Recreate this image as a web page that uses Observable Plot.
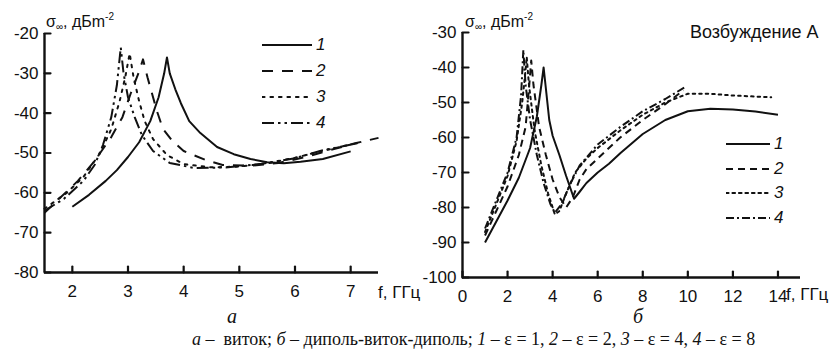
<!DOCTYPE html>
<html>
<head>
<meta charset="utf-8">
<script src="https://cdn.jsdelivr.net/npm/d3@7"></script>
<script src="https://cdn.jsdelivr.net/npm/@observablehq/plot@0.6"></script>
<style>
  html, body { margin: 0; padding: 0; background: #fff; }
  #wrap { position: relative; width: 840px; height: 355px; background: #fff; overflow: hidden;
          font-family: "Liberation Sans", Arial, sans-serif; color: #111; }
  .abs { position: absolute; white-space: nowrap; }
  .ylab { font-size: 16px; }
  .ylab sub { font-size: 10px; vertical-align: -3px; }
  .ylab sup { font-size: 10px; vertical-align: 7px; }
  .leg { position: absolute; font-size: 17px; font-style: italic; }
  .leg div { height: 26px; display: flex; align-items: center; }
  .caption { font-family: "Liberation Serif", "Times New Roman", serif; font-size: 18px; }
  .panel { font-family: "Liberation Serif", serif; font-style: italic; font-size: 20px; }
</style>
</head>
<body>
<div id="wrap">
  <div id="pa" class="abs" style="left:0;top:0"></div>
  <div id="pb" class="abs" style="left:420px;top:0"></div>
  <div class="abs ylab" style="left:46px;top:11px">σ<sub>∞</sub>, дБm<sup>-2</sup></div>
  <div class="abs ylab" style="left:465px;top:11px">σ<sub>∞</sub>, дБm<sup>-2</sup></div>
  <div class="abs" style="left:690px;top:22px;font-size:18px">Возбуждение А</div>
  <div class="abs" style="left:378px;top:283px;font-size:17px">f, ГГц</div>
  <div class="abs" style="left:786px;top:285px;font-size:17px">f, ГГц</div>
  <div class="abs panel" style="left:227px;top:305px">а</div>
  <div class="abs panel" style="left:633px;top:305px">б</div>
  <div id="legA" class="leg" style="left:262px;top:32px"></div>
  <div id="legB" class="leg" style="left:726px;top:132px"></div>
  <div class="abs caption" style="left:192px;top:329px"><i>а</i> –&nbsp; виток; <i>б</i> – диполь-виток-диполь; <i>1</i> – ε = 1, <i>2</i> – ε = 2, <i>3</i> – ε = 4, <i>4</i> – ε = 8</div>
</div>
<script>
// ---------- Panel а (виток) ----------
const aF1 = [2, 2.3, 2.6, 2.8, 3.0, 3.2, 3.4, 3.55, 3.65, 3.7, 3.75, 3.85, 3.95, 4.1, 4.3, 4.6, 4.9, 5.2, 5.5, 5.8, 6.1, 6.5, 7.0];
const aS1 = [-63.5, -60.5, -57, -54.3, -51, -47.3, -42, -36, -30, -26, -30, -34, -37.5, -42, -45, -48.5, -50.3, -51.5, -52.3, -52.6, -52.2, -51.5, -49.6];
const aF2 = [1.5, 1.8, 2.1, 2.4, 2.7, 2.9, 3.05, 3.2, 3.27, 3.35, 3.45, 3.52, 3.63, 3.8, 4.0, 4.4, 4.7, 5.2, 5.7, 6.2, 6.7, 7.1, 7.5];
const aS2 = [-65, -61, -57, -52, -46, -41, -35, -29.5, -26.5, -31, -36, -39.5, -44, -47, -49.5, -51.8, -53, -53.2, -52.5, -51, -49, -47.5, -46.2];
const aF3 = [1.5, 1.9, 2.2, 2.5, 2.7, 2.85, 2.95, 3.03, 3.1, 3.2, 3.3, 3.45, 3.7, 4.0, 4.5, 5.0, 5.5, 6.0, 6.4, 6.8, 7.1];
const aS3 = [-64, -60, -56, -50, -44, -37, -31, -25, -31, -37, -42, -46.5, -50.5, -52.8, -53.6, -53.4, -52.6, -51.2, -49.8, -48.5, -47.6];
const aF4 = [1.5, 1.85, 2.2, 2.4, 2.55, 2.7, 2.8, 2.87, 2.92, 3.0, 3.12, 3.25, 3.45, 3.75, 4.2, 4.8, 5.4, 6.0, 6.5, 6.9, 7.2];
const aS4 = [-64.5, -61.5, -57, -53, -48, -41, -33, -23.5, -30, -36, -41, -45.5, -49.5, -52.5, -53.8, -53.6, -52.7, -51.3, -49.3, -48.2, -47.3];
const aXTicks = [2, 3, 4, 5, 6, 7];
const aYTicks = [-20, -30, -40, -50, -60, -70, -80];

// ---------- Panel б (диполь-виток-диполь) ----------
const bF1 = [1, 1.5, 2, 2.5, 3, 3.3, 3.5, 3.6, 3.7, 3.85, 4.0, 4.3, 4.6, 4.95, 5.2, 5.5, 6, 6.5, 7, 8, 9, 10, 11, 12, 13, 14];
const bS1 = [-90, -84, -78, -71.5, -63, -54, -45, -40, -46, -55, -59.5, -65, -71, -77.5, -75.5, -73, -70, -67.5, -64.5, -59, -55, -52.5, -51.8, -52, -52.6, -53.5];
const bF2 = [1, 1.5, 2, 2.5, 2.8, 2.95, 3.05, 3.15, 3.4, 3.7, 4.0, 4.3, 4.6, 4.9, 5.2, 5.5, 6, 7, 8, 9, 9.8];
const bS2 = [-88, -81, -74, -65, -57, -46, -38, -45, -57, -65, -72, -77, -80, -77, -72, -69, -66, -60, -55, -50.5, -46.5];
const bF3 = [1, 1.5, 2, 2.4, 2.65, 2.78, 2.85, 2.95, 3.2, 3.5, 3.8, 4.1, 4.3, 4.6, 5, 5.5, 6, 7, 8, 9, 10, 11, 12, 13, 13.7];
const bS3 = [-87, -79, -71, -61, -50, -42, -37, -45, -58, -68, -76, -82, -81, -76, -70, -66, -63, -58, -53.5, -50, -47.5, -47.5, -48, -48.3, -48.5];
const bF4 = [1, 1.5, 2, 2.4, 2.6, 2.7, 2.8, 3.0, 3.3, 3.6, 3.9, 4.1, 4.4, 4.8, 5.2, 6, 7, 8, 9, 9.9];
const bS4 = [-86, -78, -70, -60, -48, -35, -45, -55, -65, -73, -79, -81.5, -79, -73, -68, -62, -57, -52.5, -49, -45.5];
const bXTicks = [0, 2, 4, 6, 8, 10, 12, 14];
const bYTicks = [-30, -40, -50, -60, -70, -80, -90, -100];

const seriesNames = ["1", "2", "3", "4"];
const dashA = {"1": null, "2": "11,9", "3": "2.5,6", "4": "12,4,2.5,4,2.5,4"};
const dashB = {"1": null, "2": "7,5", "3": "2.5,4", "4": "8,3,2,3"};

function rows(fs, ss) {
  const out = [];
  fs.forEach((F, k) => F.forEach((f, i) => out.push({s: seriesNames[k], f, v: ss[k][i]})));
  return out;
}
const rowsA = rows([aF1, aF2, aF3, aF4], [aS1, aS2, aS3, aS4]);
const rowsB = rows([bF1, bF2, bF3, bF4], [bS1, bS2, bS3, bS4]);

// a straight tick shape for Plot.vector (from the anchor point, length l, direction by rotate)
const tickShape = {draw(context, l) { context.moveTo(0, 0); context.lineTo(0, -l); }};

function panel({data, xDomain, yDomain, xTicks, yTicks, width, height, mL, mR, mT, mB, dash}) {
  const tl = 6;
  return Plot.plot({
    width, height, marginLeft: mL, marginRight: mR, marginTop: mT, marginBottom: mB,
    x: {domain: xDomain, label: null}, y: {domain: yDomain, label: null},
    style: {fontFamily: "Liberation Sans, Arial, sans-serif", fontSize: "17px", color: "#111", background: "transparent", overflow: "visible"},
    marks: [
      Plot.axisX(xTicks, {label: null, tickSize: 0, tickPadding: 12, tickFormat: d => String(d), fontSize: 17}),
      Plot.axisY(yTicks, {label: null, tickSize: 0, tickPadding: 6, tickFormat: d => String(d), fontSize: 17}),
      // inward tick marks
      Plot.vector(xTicks, {x: d => d, y: () => yDomain[0], length: tl, rotate: 0, anchor: "start",
        shape: tickShape, stroke: "#111", strokeWidth: 2.2}),
      Plot.vector(yTicks, {x: () => xDomain[0], y: d => d, length: tl, rotate: 90, anchor: "start",
        shape: tickShape, stroke: "#111", strokeWidth: 2.2}),
      Plot.ruleX([xDomain[0]], {stroke: "#111", strokeWidth: 2.4}),
      Plot.ruleY([yDomain[0]], {stroke: "#111", strokeWidth: 2.4}),
      ...seriesNames.map(s => Plot.line(data.filter(r => r.s === s), {
        x: "f", y: "v", stroke: "#111", strokeWidth: 2,
        strokeDasharray: dash[s], strokeLinecap: s === "3" ? "round" : "butt"
      }))
    ]
  });
}

document.getElementById("pa").appendChild(panel({
  data: rowsA, xDomain: [1.5, 7.5], yDomain: [-80, -20], xTicks: aXTicks, yTicks: aYTicks,
  width: 420, height: 310, mL: 44, mR: 42, mT: 33, mB: 38, dash: dashA
}));
document.getElementById("pb").appendChild(panel({
  data: rowsB, xDomain: [0, 15], yDomain: [-100, -30], xTicks: bXTicks, yTicks: bYTicks,
  width: 420, height: 310, mL: 42, mR: 40, mT: 32, mB: 33, dash: dashB
}));

function legend(el, dash, lineW, rowH) {
  seriesNames.forEach(s => {
    const row = document.createElement("div");
    row.style.height = rowH + "px";
    const svg = d3.create("svg").attr("width", lineW + 2).attr("height", 10);
    svg.append("line").attr("x1", 0).attr("x2", lineW).attr("y1", 5).attr("y2", 5)
      .attr("stroke", "#111").attr("stroke-width", 2.2)
      .attr("stroke-dasharray", dash[s]).attr("stroke-linecap", s === "3" ? "round" : "butt");
    row.appendChild(svg.node());
    const t = document.createElement("span");
    t.textContent = s;
    t.style.marginLeft = "2px";
    row.appendChild(t);
    el.appendChild(row);
  });
}
legend(document.getElementById("legA"), dashA, 50, 26);
legend(document.getElementById("legB"), dashB, 44, 24.5);
</script>
</body>
</html>
